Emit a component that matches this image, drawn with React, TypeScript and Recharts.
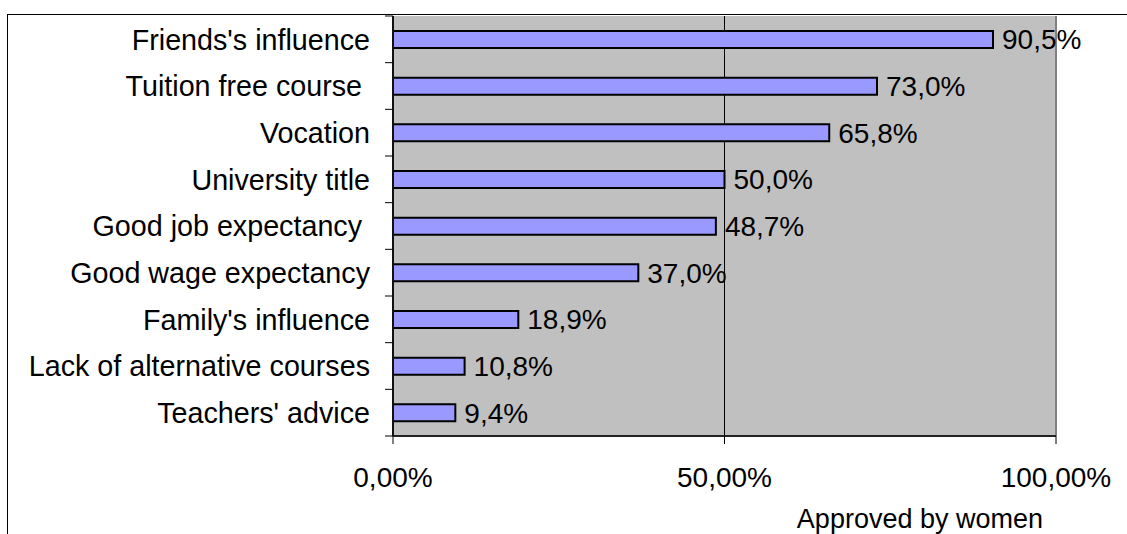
import { BarChart, Bar, XAxis, YAxis, CartesianGrid, ReferenceLine, LabelList } from 'recharts';

// Reasons for choosing the course, share approved by women
const reasons = [
  "Friends's influence",
  'Tuition free course\u00A0',
  'Vocation',
  'University title',
  'Good job expectancy\u00A0',
  'Good wage expectancy',
  "Family's influence",
  'Lack of alternative courses',
  "Teachers' advice",
];
const approved = [0.905, 0.73, 0.658, 0.5, 0.487, 0.37, 0.189, 0.108, 0.094];
const xTicks = [0, 0.5, 1];

const data = reasons.map((reason, i) => ({ reason, value: approved[i] }));

const FONT = '"Liberation Sans", Arial, sans-serif';

const pct = (v: number, digits: number) => (v * 100).toFixed(digits).replace('.', ',') + '%';

// category label plus tick marks on the band edges (Excel style)
function ReasonTick(props: any) {
  const { x, y, payload, index } = props;
  const half = payload.offset ?? 0;
  const axisX = x + 23;
  return (
    <g>
      <line x1={axisX - 8} x2={axisX} y1={y - half} y2={y - half} stroke="#000" />
      {index === reasons.length - 1 && (
        <line x1={axisX - 8} x2={axisX} y1={y + half} y2={y + half} stroke="#000" />
      )}
      <text x={x} y={y} dy="0.355em" textAnchor="end" fontSize={28.7} fill="#000" fontFamily={FONT} style={{ whiteSpace: 'pre' }}>
        {payload.value}
      </text>
    </g>
  );
}

export default function App() {
  return (
    <div style={{ position: 'absolute', left: 0, top: 0, width: 1127, height: 534, background: '#fff', fontFamily: FONT }}>
      {/* outer chart frame, only left and top edges are in view */}
      <div
        style={{
          position: 'absolute',
          left: 7,
          top: 14,
          width: 1120,
          height: 520,
          borderLeft: '1px solid #000',
          borderTop: '1px solid #000',
        }}
      />
      <BarChart
        width={1127}
        height={534}
        data={data}
        layout="vertical"
        margin={{ top: 16, right: 71, bottom: 38, left: 0 }}
        barSize={17}
        style={{ position: 'absolute', left: 0, top: 0 }}
      >
        <CartesianGrid horizontal={false} vertical stroke="#000" strokeWidth={1} fill="#C0C0C0" fillOpacity={1} />
        <XAxis
          type="number"
          domain={[0, 1]}
          ticks={xTicks}
          tickFormatter={(v: number) => pct(v, 2)}
          height={60}
          tickSize={8}
          tickMargin={23}
          axisLine={{ stroke: '#222', strokeWidth: 2 }}
          tickLine={{ stroke: '#000' }}
          tick={{ fontSize: 28, fill: '#000', fontFamily: FONT }}
          label={(props: any) => {
            const vb = props.viewBox;
            return (
              <text x={vb.x + vb.width - 13} y={vb.y + 92} textAnchor="end" fontSize={27} fill="#000" fontFamily={FONT}>
                Approved by women
              </text>
            );
          }}
        />
        <YAxis
          type="category"
          dataKey="reason"
          width={393}
          tickLine={false}
          tickSize={0}
          tickMargin={23}
          axisLine={{ stroke: '#111', strokeWidth: 2 }}
          tick={<ReasonTick />}
        />
        <ReferenceLine x={1} stroke="#808080" strokeWidth={2} />
        <Bar dataKey="value" fill="#9999FF" stroke="#000" strokeWidth={2} isAnimationActive={false}>
          <LabelList
            dataKey="value"
            position="right"
            offset={9}
            formatter={(v: any) => pct(Number(v), 1)}
            style={{ fontSize: 28, fill: '#000', fontFamily: FONT }}
          />
        </Bar>
      </BarChart>
    </div>
  );
}
